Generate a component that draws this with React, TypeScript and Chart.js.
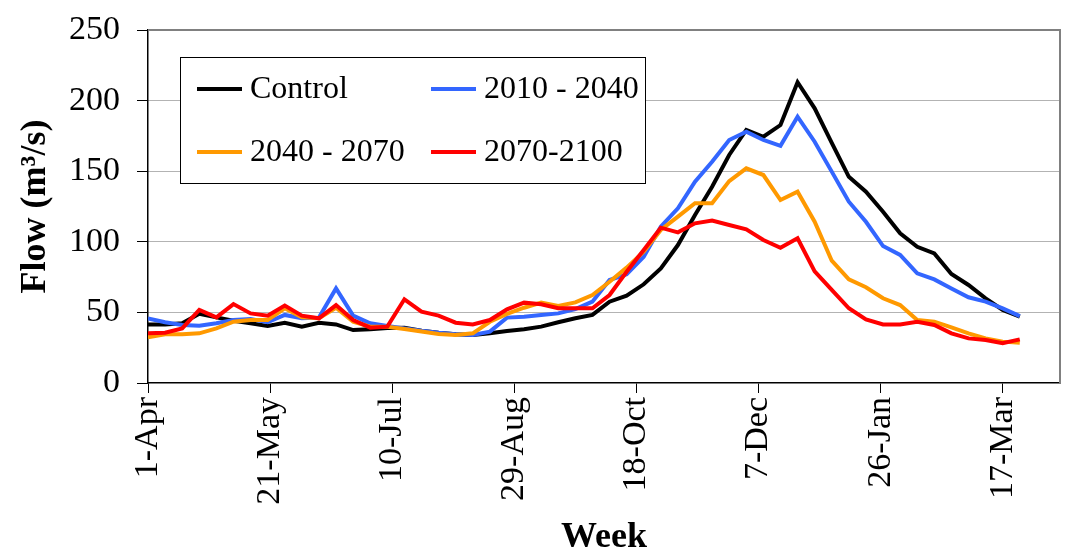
import React, { useEffect, useRef } from "react";
import { Chart, registerables } from "chart.js";

Chart.register(...registerables);

// ---- data ----
const SERIES_NAMES = ["Control", "2010 - 2040", "2040 - 2070", "2070-2100"];
const SERIES_COLORS = ["#000000", "#3366FF", "#FF9900", "#FF0000"];
const TICK_LABELS = ["1-Apr", "21-May", "10-Jul", "29-Aug", "18-Oct", "7-Dec", "26-Jan", "17-Mar"];
const TICK_STEP_DAYS = 49;
const DAYS_PER_POINT = 6.86;
const AXIS_DAYS = 366;
const Y_TICKS = [0, 50, 100, 150, 200, 250];

const control = [
  41.5, 41.5, 42.3, 49, 46.5, 44.1, 42.3, 40.4, 42.7, 39.9,
  42.7, 41.5, 37.5, 38, 39, 39.2, 37, 35.6, 34.5, 34,
  35.2, 36.8, 38, 39.9, 43, 45.8, 48.2, 57.6, 61.8, 69.9,
  81.2, 97.7, 119, 139, 161.5, 179.2, 174.4, 182.7, 213, 194.5,
  170, 146, 135.5, 121.3, 106, 96.5, 91.8, 77.2, 69.4, 60,
  51.7, 47,
];
const s2010 = [
  45.8, 43, 41.1, 40.6, 42.3, 44.6, 45.3, 43, 48.2, 45.8,
  46.3, 67, 47.7, 42.3, 40.4, 38.7, 37, 35.6, 34.5, 34,
  36.4, 46.3, 47, 48.2, 49.3, 52.4, 57.6, 72.9, 77, 89.4,
  110.7, 123.7, 142.6, 156.7, 172.1, 178, 172.1, 168, 188.6, 170.9,
  149.7, 128.4, 114.2, 97, 90.7, 77.7, 73.4, 67, 60.7, 57.6,
  52.9, 47.4,
];
const s2040 = [
  32.3, 34.5, 34.5, 35.2, 38.7, 43.4, 44.6, 44.6, 52.9, 46.5,
  45.8, 53.3, 43.4, 39.9, 39.9, 38.2, 36.4, 34.7, 34, 35.2,
  43.4, 48.9, 53.3, 56.9, 54.5, 57.1, 62.3, 71.7, 81.7, 93,
  108.4, 117.8, 127.3, 127.3, 143, 152, 147.3, 129.6, 135.5, 114.2,
  86.6, 73.4, 67.8, 60, 55.2, 44.6, 43.4, 39.4, 35.2, 31.6,
  29.3, 28.5,
];
const s2070 = [
  35.2, 35.6, 38.7, 51.7, 46.5, 55.9, 49.3, 47.7, 54.8, 47.7,
  45.8, 55.2, 44.6, 39.2, 39.9, 59.3, 50.5, 47.7, 42.7, 41.5,
  44.6, 52.2, 56.9, 55.7, 52.9, 52.9, 52.9, 62.3, 78.8, 94.2,
  110, 106.7, 113.1, 115, 111.9, 108.8, 101.3, 95.8, 102.5, 79,
  65.9, 52.9, 45.1, 41.5, 41.5, 43.4, 41.1, 35.2, 31.6, 30.5,
  28.1, 30.9,
];
const SERIES = [control, s2010, s2040, s2070];

const FONT = "'Times New Roman', 'Liberation Serif', serif";

const framePlugin = {
  id: "frame",
  beforeDatasetsDraw(chart: any) {
    const { ctx, chartArea } = chart;
    ctx.save();
    ctx.strokeStyle = "#808080";
    ctx.lineWidth = 2;
    ctx.beginPath();
    ctx.moveTo(chartArea.left, chartArea.top);
    ctx.lineTo(chartArea.right, chartArea.top);
    ctx.lineTo(chartArea.right, chartArea.bottom);
    ctx.stroke();
    ctx.restore();
  },
};

const boxLegendPlugin = {
  id: "boxLegend",
  afterDraw(chart: any) {
    const { ctx, chartArea } = chart;
    const left = chartArea.left + 32;
    const top = chartArea.top + 27;
    const w = 465;
    const h = 126;
    ctx.save();
    ctx.fillStyle = "#ffffff";
    ctx.fillRect(left, top, w, h);
    ctx.strokeStyle = "#000000";
    ctx.lineWidth = 1;
    ctx.strokeRect(left + 0.5, top + 0.5, w, h);
    ctx.font = `32px ${FONT}`;
    ctx.textBaseline = "middle";
    ctx.textAlign = "left";
    chart.data.datasets.forEach((ds: any, k: number) => {
      const col = k % 2;
      const row = Math.floor(k / 2);
      const lx = left + 17 + col * 234;
      const ly = top + 32 + row * 63;
      ctx.strokeStyle = ds.borderColor;
      ctx.lineWidth = 4;
      ctx.beginPath();
      ctx.moveTo(lx, ly);
      ctx.lineTo(lx + 45, ly);
      ctx.stroke();
      ctx.fillStyle = "#000000";
      ctx.fillText(ds.label, lx + 53, ly + 1);
    });
    ctx.restore();
  },
};

export default function App() {
  const ref = useRef<HTMLCanvasElement | null>(null);

  useEffect(() => {
    if (!ref.current) return;
    const datasets = SERIES.map((vals, k) => ({
      label: SERIES_NAMES[k],
      data: vals.map((v, i) => ({ x: i * DAYS_PER_POINT, y: v })),
      borderColor: SERIES_COLORS[k],
      backgroundColor: SERIES_COLORS[k],
      borderWidth: 4,
      pointRadius: 0,
      tension: 0,
      fill: false,
      order: SERIES.length - 1 - k,
    }));

    const chart = new Chart(ref.current, {
      type: "line",
      data: { datasets },
      plugins: [framePlugin, boxLegendPlugin],
      options: {
        animation: false,
        responsive: false,
        layout: { padding: { top: 30, right: 7, bottom: 0, left: 0 } },
        plugins: { legend: { display: false }, tooltip: { enabled: false } },
        scales: {
          x: {
            type: "linear",
            min: 0,
            max: AXIS_DAYS,
            afterBuildTicks: (s: any) => {
              s.ticks = TICK_LABELS.map((_, j) => ({ value: j * TICK_STEP_DAYS }));
            },
            afterFit: (s: any) => {
              s.height = 166;
            },
            ticks: {
              autoSkip: false,
              minRotation: 90,
              maxRotation: 90,
              padding: 4,
              color: "#000",
              font: { family: FONT, size: 34 },
              callback: (_v: any, idx: number) => TICK_LABELS[idx],
            },
            grid: { drawOnChartArea: false, tickLength: 10, tickColor: "#000", tickWidth: 1 },
            border: { color: "#000", width: 1.5 },
            title: {
              display: true,
              text: "Week",
              color: "#000",
              font: { family: FONT, size: 36, weight: "bold", lineHeight: 0.6 },
              padding: { top: 0, bottom: 0 },
            },
          },
          y: {
            type: "linear",
            min: 0,
            max: 250,
            afterBuildTicks: (s: any) => {
              s.ticks = Y_TICKS.map((v) => ({ value: v }));
            },
            afterFit: (s: any) => {
              s.width = 148;
            },
            ticks: {
              padding: 17,
              color: "#000",
              font: { family: FONT, size: 34, lineHeight: 0.5 },
            },
            grid: {
              color: (c: any) =>
                c.tick && (c.tick.value === 0 || c.tick.value === 250) ? "rgba(0,0,0,0)" : "#666666",
              lineWidth: 1,
              tickLength: 11,
              tickColor: "#000",
              tickWidth: 1,
              tickBorderDash: [],
            },
            border: { color: "#000", width: 1.5, dash: [1, 1] },
            title: {
              display: true,
              text: "Flow (m³/s)",
              color: "#000",
              font: { family: FONT, size: 36, weight: "bold", lineHeight: 1.2 },
              padding: { top: 14, bottom: 0 },
            },
          },
        },
      } as any,
    });
    return () => chart.destroy();
  }, []);

  return (
    <div style={{ position: "fixed", left: 0, top: 0, width: 1067, height: 549, background: "#fff" }}>
      <canvas ref={ref} width={1067} height={549} style={{ display: "block" }} />
    </div>
  );
}
